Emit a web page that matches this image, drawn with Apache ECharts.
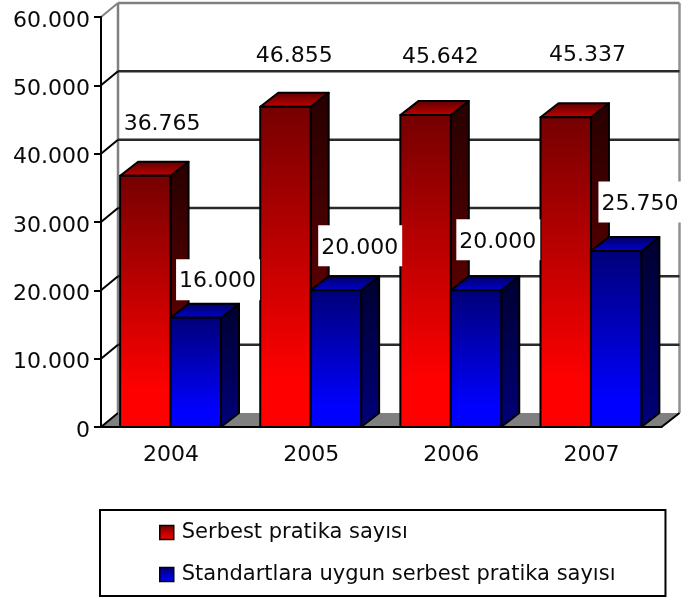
<!DOCTYPE html>
<html>
<head>
<meta charset="utf-8">
<style>html,body{margin:0;padding:0;background:#fff}#c{width:685px;height:597px}</style>
<script src="https://cdn.jsdelivr.net/npm/echarts@6/dist/echarts.min.js"></script>
</head>
<body>
<div id="c"></div>
<script>
const categories = ['2004', '2005', '2006', '2007'];
const serbest = [36765, 46855, 45642, 45337];
const standart = [16000, 20000, 20000, 25750];
const gridValues = [0, 10000, 20000, 30000, 40000, 50000, 60000];
const seriesNames = ['Serbest pratika sayısı', 'Standartlara uygun serbest pratika sayısı'];

// label nudges relative to each bar's top-left corner
const redNudgeX = [42, 34, 40, 47];
const redNudgeY = [-51, -51, -58, -62];
const blueNudgeX = [47, 49, 47, 49];
const blueNudgeY = [-38, -44.5, -50.5, -49];

const DX = 18, DY = 14;
const FONT = '"DejaVu Sans", sans-serif';
const TEXT = '#0a0a0a';
const fmt = v => String(v).replace(/\B(?=(\d{3})+$)/g, '.');
const vgrad = (a, b, stop) => ({type: 'linear', x: 0, y: 0, x2: 0, y2: 1, colorStops: [
  {offset: 0, color: a}, {offset: stop === undefined ? 1 : stop, color: b}, {offset: 1, color: b}]});

const palette = [
  {front: ['#750000', '#ff0000', 0.85], side: ['#280000', '#7a0000'], top: ['#5a0000', '#c80000']},
  {front: ['#000078', '#0000ff', 0.85], side: ['#000030', '#00007a'], top: ['#00005a', '#0000d8']}
];

function barRender(slot, nudgeX, nudgeY, boxed) {
  return function (params, api) {
    const i = api.value(0), v = api.value(1);
    const p = api.coord([i, v]), b = api.coord([i, 0]);
    const band = api.size([1, 0])[0];
    const w = band * 0.36;
    const x = p[0] - w - 0.5 + slot * w, y = p[1], y0 = b[1];
    const c = palette[slot];
    const edge = {stroke: '#000', lineWidth: 2, lineJoin: 'round'};
    const lx = x + nudgeX[i], ly = y + nudgeY[i];
    const children = [
      {type: 'polygon', shape: {points: [[x + w, y], [x + w + DX, y - DY], [x + w + DX, y0 - DY], [x + w, y0]]},
        style: Object.assign({fill: vgrad(c.side[0], c.side[1])}, edge)},
      {type: 'polygon', shape: {points: [[x, y], [x + DX, y - DY], [x + w + DX, y - DY], [x + w, y]]},
        style: Object.assign({fill: vgrad(c.top[0], c.top[1])}, edge)},
      {type: 'rect', shape: {x: x, y: y, width: w, height: y0 - y},
        style: Object.assign({fill: vgrad(c.front[0], c.front[1], c.front[2])}, edge)}
    ];
    if (boxed) {
      children.push({type: 'rect', z2: 49, shape: {x: lx - 41.5, y: ly - 20.5, width: 84, height: 41}, style: {fill: '#fff'}});
    }
    children.push({type: 'text', x: lx, y: boxed ? ly + 2 : ly, z2: 50,
      style: {text: fmt(v), fontFamily: FONT, fontSize: 22, fill: TEXT, align: 'center', verticalAlign: 'middle'}});
    return {type: 'group', children: children};
  };
}

function frameRender(params, api) {
  const v = api.value(1);
  const p = api.coord([0, v]);
  const cs = params.coordSys;
  const xl = cs.x, xr = cs.x + cs.width, y = p[1];
  const GREY = '#808080';
  const kids = [];
  if (v === 0) {
    kids.push({type: 'polygon', shape: {points: [[xl, y], [xl + DX, y - DY], [xr + DX, y - DY], [xr, y]]},
      style: {fill: GREY}});
    kids.push({type: 'line', shape: {x1: xl + DX - 1, y1: y - DY, x2: xl + DX - 1, y2: cs.y - DY},
      style: {stroke: GREY, lineWidth: 2.5}});
    kids.push({type: 'line', shape: {x1: xr + DX, y1: y - DY, x2: xr + DX, y2: cs.y - DY},
      style: {stroke: '#909090', lineWidth: 2.5}});
    kids.push({type: 'line', shape: {x1: xr, y1: y, x2: xr + DX, y2: y - DY}, style: {stroke: '#000', lineWidth: 2}});
  } else {
    const top = v === gridValues[gridValues.length - 1];
    kids.push({type: 'line', shape: {x1: xl + DX - 1, y1: y - DY, x2: xr + DX, y2: y - DY},
      style: {stroke: top ? GREY : '#2a2a2a', lineWidth: 2.5}});
  }
  const isTop = v === gridValues[gridValues.length - 1];
  kids.push({type: 'line', shape: {x1: xl, y1: y, x2: xl + DX - 1, y2: y - DY},
    style: {stroke: isTop ? GREY : '#000', lineWidth: 2}});
  return {type: 'group', children: kids};
}

const chart = echarts.init(document.getElementById('c'), null, {renderer: 'canvas'});
chart.setOption({
  animation: false,
  backgroundColor: '#fff',
  grid: {left: 101, top: 17, width: 560.5, height: 410, containLabel: false},
  xAxis: {
    type: 'category', data: categories, boundaryGap: true, z: 10,
    axisLine: {lineStyle: {color: '#000', width: 2}},
    axisTick: {length: 7, lineStyle: {color: '#000', width: 2}},
    axisLabel: {color: TEXT, fontFamily: FONT, fontSize: 22, margin: 17}
  },
  yAxis: {
    type: 'value', min: 0, max: 60000, interval: 10000, z: 10,
    axisLine: {show: true, lineStyle: {color: '#000', width: 2}},
    axisTick: {show: true, length: 7, lineStyle: {color: '#000', width: 2}},
    splitLine: {show: false},
    axisLabel: {color: TEXT, fontFamily: FONT, fontSize: 22, margin: 11, verticalAlign: 'top', lineHeight: 8, formatter: fmt}
  },
  legend: {
    left: 100, top: 510, orient: 'vertical', icon: 'rect', itemWidth: 14, itemHeight: 14, itemGap: 21,
    align: 'left', selectedMode: false,
    backgroundColor: '#fff', borderColor: '#000', borderWidth: 2, borderRadius: 0,
    padding: [12, 50, 11, 59],
    textStyle: {color: TEXT, fontFamily: FONT, fontSize: 21, padding: [0, 0, 0, 3]},
    data: seriesNames.map((n, k) => ({name: n, icon: 'rect',
      itemStyle: {color: vgrad(palette[k].front[0], palette[k].front[1]), borderColor: '#000', borderWidth: 1.5}}))
  },
  series: [
    {type: 'custom', name: 'frame', silent: true, z: 1, renderItem: frameRender,
      data: gridValues.map(v => [categories[0], v])},
    {type: 'custom', name: seriesNames[0], z: 2, renderItem: barRender(0, redNudgeX, redNudgeY, false),
      itemStyle: {color: '#cc0000'}, data: categories.map((c, i) => [c, serbest[i]])},
    {type: 'custom', name: seriesNames[1], z: 3, renderItem: barRender(1, blueNudgeX, blueNudgeY, true),
      itemStyle: {color: '#0000cc'}, data: categories.map((c, i) => [c, standart[i]])}
  ]
});
</script>
</body>
</html>
